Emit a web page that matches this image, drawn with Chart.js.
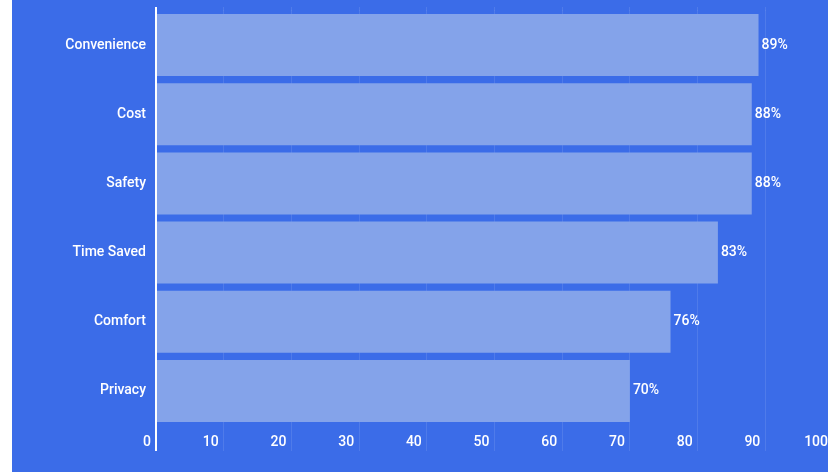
<!DOCTYPE html>
<html>
<head>
<meta charset="utf-8">
<script src="https://cdn.jsdelivr.net/npm/chart.js@4.4.0/dist/chart.umd.min.js"></script>
<style>
  html, body { margin: 0; padding: 0; background: #fff; overflow: hidden; }
  #wrap { position: absolute; left: 12px; top: 0; width: 850px; height: 472px; background: #3b6ce8; }
</style>
</head>
<body>
<div id="wrap"><canvas id="myChart" width="850" height="472"></canvas></div>
<script>
let categories = ['Convenience', 'Cost', 'Safety', 'Time Saved', 'Comfort', 'Privacy'];
let percentages = [89, 88, 88, 83, 76, 70];
let tickValues = [0, 10, 20, 30, 40, 50, 60, 70, 80, 90, 100];

const white = '#ffffff';
const faint = 'rgba(255,255,255,0.1)';

// value labels at the end of each bar
const barLabels = {
    id: 'barLabels',
    afterDatasetsDraw(chart) {
        const ctx = chart.ctx;
        const meta = chart.getDatasetMeta(0);
        ctx.save();
        ctx.fillStyle = white;
        ctx.font = '500 14px Roboto';
        ctx.textAlign = 'left';
        ctx.textBaseline = 'middle';
        meta.data.forEach((bar, i) => {
            ctx.fillText(percentages[i] + '%', bar.x + 3, bar.y);
        });
        ctx.restore();
    }
};

new Chart(document.getElementById('myChart'), {
    type: 'bar',
    data: {
        labels: categories,
        datasets: [{
            data: percentages,
            backgroundColor: '#84a3ea',
            borderWidth: 0,
            barPercentage: 0.896,
            categoryPercentage: 1
        }]
    },
    options: {
        indexAxis: 'y',
        responsive: false,
        animation: false,
        layout: { padding: { left: 0, right: 29, top: 0, bottom: 0 } },
        plugins: {
            legend: { display: false },
            tooltip: { enabled: false }
        },
        scales: {
            x: {
                position: 'bottom',
                min: 0,
                max: 100,
                afterBuildTicks: (scale) => { scale.ticks = tickValues.map(v => ({ value: v })); },
                afterFit: (scale) => { scale.height = 46.5; },
                border: { display: false },
                grid: {
                    color: (c) => c.tick && c.tick.value === 0 ? white : faint,
                    lineWidth: (c) => c.tick && c.tick.value === 0 ? 2 : 1,
                    tickLength: 25.5
                },
                ticks: {
                    color: white,
                    font: { family: 'Roboto', size: 14, weight: 500 },
                    align: 'end',
                    labelOffset: -5,
                    padding: -17,
                    maxRotation: 0,
                    autoSkip: false
                }
            },
            x2: {
                position: 'top',
                axis: 'x',
                min: 0,
                max: 100,
                afterBuildTicks: (scale) => { scale.ticks = tickValues.map(v => ({ value: v })); },
                afterFit: (scale) => { scale.height = 10.5; },
                border: { display: false },
                grid: {
                    drawOnChartArea: false,
                    color: (c) => c.tick && c.tick.value === 0 ? white : faint,
                    lineWidth: (c) => c.tick && c.tick.value === 0 ? 2 : 1,
                    tickLength: 3.5
                },
                ticks: { display: false }
            },
            y: {
                afterFit: (scale) => {
                    scale.width = 144;
                    scale.paddingTop = 0;
                    scale.paddingBottom = 0;
                },
                grid: { display: false, drawTicks: false, tickLength: 0 },
                border: { display: true, color: white, width: 2, z: 1 },
                ticks: {
                    color: white,
                    font: { family: 'Roboto', size: 14, weight: 500 },
                    padding: 10
                }
            }
        }
    },
    plugins: [barLabels]
});
</script>
</body>
</html>
